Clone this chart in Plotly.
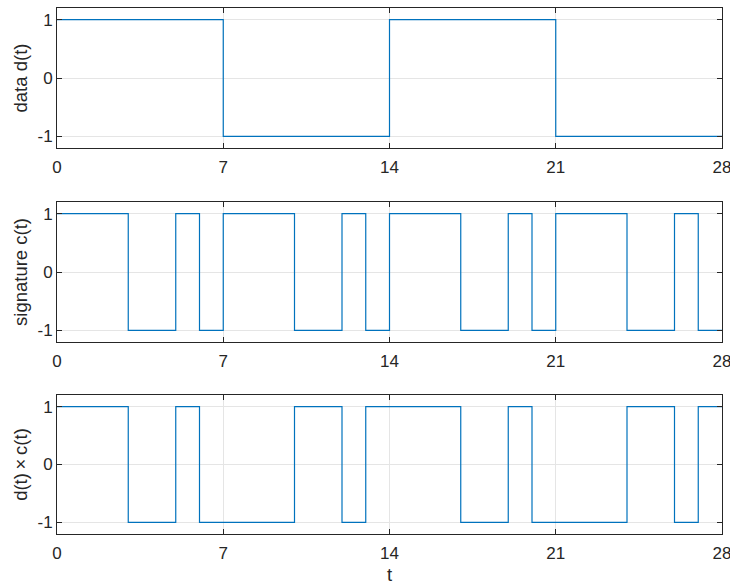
import plotly.graph_objects as go

# chip boundaries (t = 0 .. 28)
t_edges = list(range(29))

# data d(t): one value per unit interval (last value repeated for step end)
d_values = [1, 1, 1, 1, 1, 1, 1,
            -1, -1, -1, -1, -1, -1, -1,
            1, 1, 1, 1, 1, 1, 1,
            -1, -1, -1, -1, -1, -1, -1, -1]

# signature c(t)
c_values = [1, 1, 1, -1, -1, 1, -1,
            1, 1, 1, -1, -1, 1, -1,
            1, 1, 1, -1, -1, 1, -1,
            1, 1, 1, -1, -1, 1, -1, -1]

# product d(t) x c(t)
p_values = [1, 1, 1, -1, -1, 1, -1,
            -1, -1, -1, 1, 1, -1, 1,
            1, 1, 1, -1, -1, 1, -1,
            -1, -1, -1, 1, 1, -1, 1, 1]

x_ticks = [0, 7, 14, 21, 28]
y_ticks = [-1, 0, 1]
y_titles = ["data d(t)", "signature c(t)", "d(t)\u2009\u00d7\u2009c(t)"]
x_title = "t"

W, H = 730, 585
LINE = "#0072BD"
AX = "#262626"
GRID = "#e5e5e5"
FAM = "Liberation Sans, Arial, sans-serif"
TICKFONT = dict(family=FAM, size=17, color=AX)
TITLEFONT = dict(family=FAM, size=18.5, color=AX)

# pixel boxes (top, bottom) of each axes
boxes = [(8, 148), (202, 342), (395, 534)]
x_dom = [57 / W, 722 / W]

fig = go.Figure()
series = [d_values, c_values, p_values]
layout = dict(
    width=W, height=H,
    margin=dict(l=0, r=0, t=0, b=0, autoexpand=False),
    plot_bgcolor="white", paper_bgcolor="white",
    showlegend=False, font=TICKFONT,
)
for i, (vals, (top, bot)) in enumerate(zip(series, boxes)):
    n = "" if i == 0 else str(i + 1)
    fig.add_trace(go.Scatter(
        x=t_edges, y=vals, mode="lines", line=dict(color=LINE, width=1.2, shape="hv"),
        xaxis="x" + n, yaxis="y" + n, hoverinfo="skip",
    ))
    xa = dict(
        domain=x_dom, anchor="y" + n, range=[0, 28],
        tickmode="array", tickvals=x_ticks, ticktext=[str(v) for v in x_ticks],
        showline=True, mirror="ticks", linecolor=AX, linewidth=1,
        ticks="inside", ticklen=5, tickcolor=AX, tickwidth=1,
        showgrid=True, gridcolor=GRID, gridwidth=1, zeroline=False,
        tickfont=TICKFONT, automargin=False, ticklabeloverflow="allow",
        ticklabelstandoff=4,
    )
    if i == 2:
        xa["title"] = dict(text=x_title, font=TITLEFONT, standoff=10)
    ya = dict(
        domain=[1 - bot / H, 1 - top / H], anchor="x" + n, range=[-1.2, 1.2],
        tickmode="array", tickvals=y_ticks, ticktext=[str(v) for v in y_ticks],
        showline=True, mirror="ticks", linecolor=AX, linewidth=1,
        ticks="inside", ticklen=5, tickcolor=AX, tickwidth=1,
        showgrid=True, gridcolor=GRID, gridwidth=1, zeroline=False,
        tickfont=TICKFONT, automargin=False, ticklabeloverflow="allow",
        title=dict(text=y_titles[i], font=TITLEFONT, standoff=4),
    )
    layout["xaxis" + n] = xa
    layout["yaxis" + n] = ya

fig.update_layout(**layout)
fig.write_html(
    "out.html",
    config={"displayModeBar": False, "staticPlot": True},
    post_script="document.body.style.margin='0';document.body.style.overflow='hidden';",
)
